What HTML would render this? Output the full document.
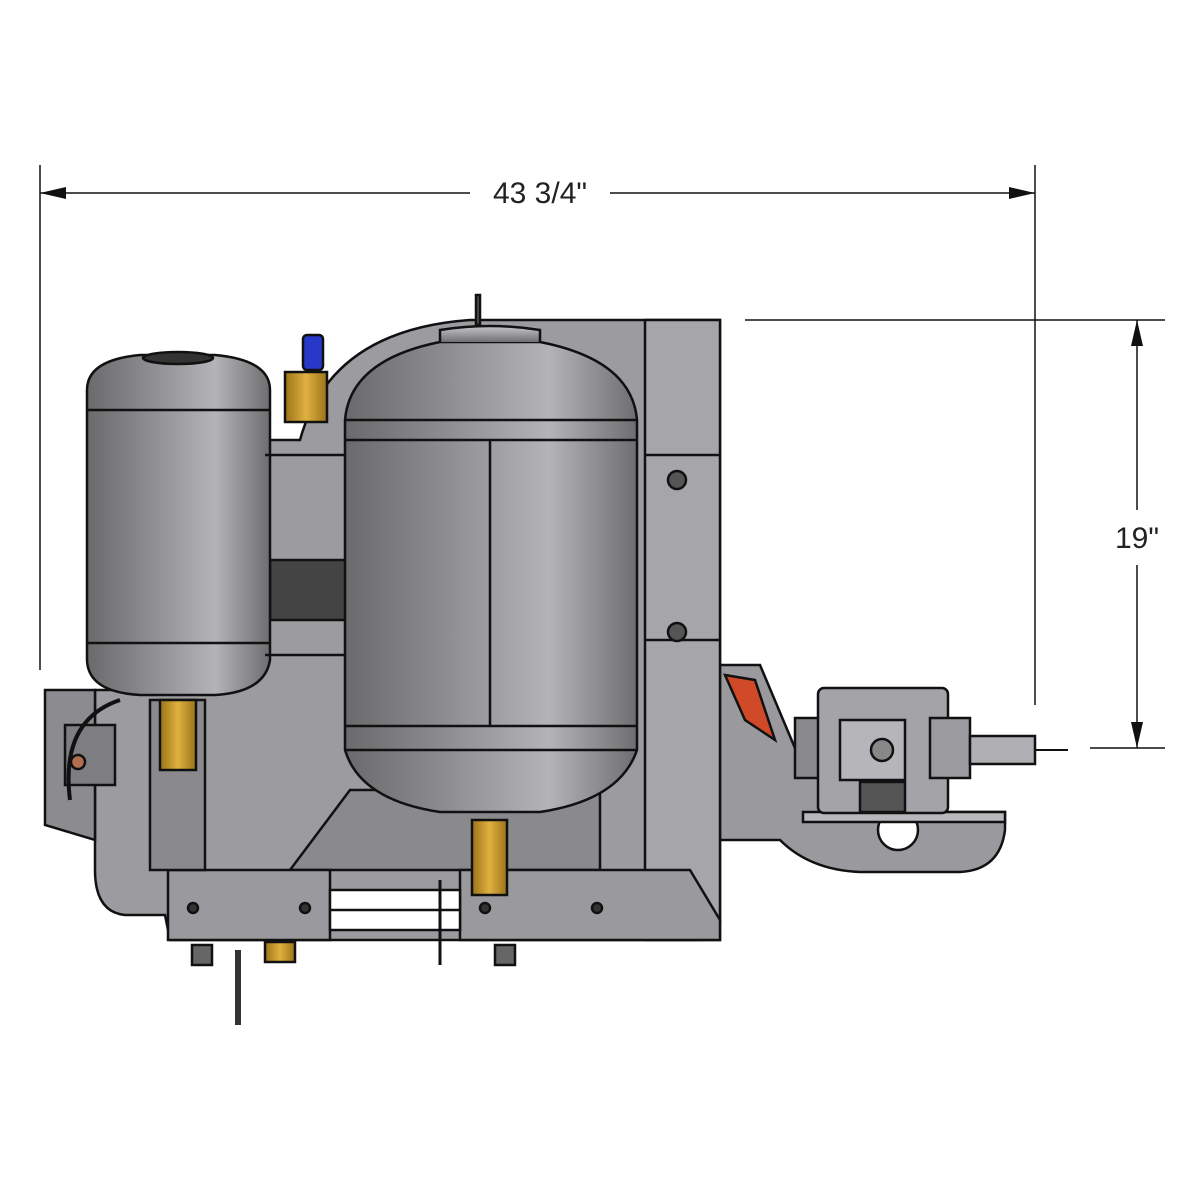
<!DOCTYPE html>
<html><head><meta charset="utf-8"><style>
html,body{margin:0;padding:0;background:#fff;width:1200px;height:1200px;overflow:hidden}
svg{display:block}
text{font-family:"Liberation Sans",sans-serif;fill:#222}
</style></head><body>
<svg width="1200" height="1200" viewBox="0 0 1200 1200" xmlns="http://www.w3.org/2000/svg">
<defs>
<linearGradient id="tank" x1="0" x2="1" y1="0" y2="0">
<stop offset="0" stop-color="#6a6a6c"/><stop offset="0.35" stop-color="#8e8e92"/><stop offset="0.7" stop-color="#b4b4b8"/><stop offset="1" stop-color="#6e6e70"/></linearGradient>
<linearGradient id="cap" x1="0" x2="0" y1="0" y2="1">
<stop offset="0" stop-color="#c8c8cc"/><stop offset="1" stop-color="#707072"/></linearGradient>
<linearGradient id="brass" x1="0" x2="1"><stop offset="0" stop-color="#9a7418"/><stop offset=".5" stop-color="#e0b040"/><stop offset="1" stop-color="#9a7418"/></linearGradient>
</defs>
<g stroke="#111" stroke-width="1.5" fill="none">
<line x1="40" y1="165" x2="40" y2="670"/>
<line x1="1035" y1="165" x2="1035" y2="705"/>
<line x1="40" y1="193" x2="470" y2="193"/>
<line x1="610" y1="193" x2="1035" y2="193"/>
<line x1="745" y1="320" x2="1165" y2="320"/>
<line x1="1090" y1="748" x2="1165" y2="748"/>
<line x1="1137" y1="320" x2="1137" y2="510"/>
<line x1="1137" y1="565" x2="1137" y2="748"/>
</g>
<polygon points="40,193 66,187 66,199" fill="#111"/>
<polygon points="1035,193 1009,187 1009,199" fill="#111"/>
<polygon points="1137,320 1131,346 1143,346" fill="#111"/>
<polygon points="1137,748 1131,722 1143,722" fill="#111"/>
<text x="540" y="203" font-size="30" text-anchor="middle">43 3/4"</text>
<text x="1137" y="548" font-size="30" text-anchor="middle">19"</text>

<g stroke="#111" stroke-width="2.5">
<path d="M700,665 L760,665 L800,760 L830,790 L830,812 L1005,812 L1005,830 Q1000,870 960,872 L860,872 Q810,870 780,840 L720,840 Z" fill="#9a9a9e"/>
<circle cx="898" cy="830" r="20" fill="#fff"/>
<path d="M803,812 L1005,812 L1005,822 L803,822 Z" fill="#b8b8bc"/>
<rect x="795" y="718" width="30" height="60" fill="#8a8a8e"/>
<rect x="818" y="688" width="130" height="125" rx="6" fill="#a4a4a8"/>
<rect x="840" y="720" width="65" height="60" fill="#b6b6ba"/>
<circle cx="882" cy="750" r="11" fill="#888"/>
<rect x="860" y="782" width="45" height="30" fill="#555"/>
<rect x="930" y="718" width="40" height="60" fill="#9c9ca0"/>
<rect x="970" y="736" width="65" height="28" fill="#b0b0b4"/>
<line x1="1035" y1="750" x2="1068" y2="750" stroke-width="2"/>
<path d="M725,675 L755,680 L775,740 L745,720 Z" fill="#d04a2a"/>
<path d="M95,870 L95,690 L150,690 L150,640 L265,640 L265,440 L300,440 Q330,330 470,320 L720,320 L720,925 Q718,940 700,940 L170,940 L165,915 L125,915 Q95,912 95,870 Z" fill="#9c9ca0"/>
<rect x="645" y="320" width="75" height="620" fill="#a6a6aa"/>
<line x1="645" y1="455" x2="720" y2="455"/>
<line x1="645" y1="640" x2="720" y2="640"/>
<circle cx="677" cy="480" r="9" fill="#555"/>
<circle cx="677" cy="632" r="9" fill="#555"/>
<path d="M290,870 L350,790 L600,790 L600,870 Z" fill="#8a8a8e"/>
<path d="M168,870 L330,870 L330,940 L168,940 Z" fill="#9a9a9e"/>
<path d="M460,870 L690,870 L720,920 L720,940 L460,940 Z" fill="#9a9a9e"/>
<rect x="330" y="890" width="130" height="40" fill="#fff"/>
<line x1="330" y1="910" x2="460" y2="910"/>
<circle cx="193" cy="908" r="5" fill="#333"/><circle cx="305" cy="908" r="5" fill="#333"/>
<circle cx="485" cy="908" r="5" fill="#333"/><circle cx="597" cy="908" r="5" fill="#333"/>
<rect x="192" y="945" width="20" height="20" fill="#666"/>
<rect x="495" y="945" width="20" height="20" fill="#666"/>
<rect x="265" y="942" width="30" height="20" fill="url(#brass)"/>
<path d="M238,950 L238,1025" stroke-width="6" stroke="#333"/>
<path d="M440,880 L440,965" stroke-width="3"/>
<path d="M45,690 L45,825 L95,840 L95,690 Z" fill="#8c8c90"/>
<rect x="65" y="725" width="50" height="60" fill="#7e7e82"/>
<circle cx="78" cy="762" r="7" fill="#b07050"/>
<path d="M70,800 Q60,720 120,700" stroke-width="4" fill="none"/>
<rect x="150" y="700" width="55" height="170" fill="#8a8a8e"/>
<rect x="160" y="700" width="36" height="70" fill="url(#brass)"/>
<rect x="472" y="820" width="35" height="75" fill="url(#brass)"/>
<rect x="303" y="335" width="20" height="35" rx="4" fill="#2838c8"/>
<rect x="285" y="372" width="42" height="50" fill="url(#brass)"/>
<rect x="476" y="295" width="4" height="30" fill="#555"/>
<rect x="270" y="560" width="85" height="60" fill="#444"/>
<path d="M87,390 Q87,360 140,355 L215,355 Q270,360 270,390 L270,660 Q265,692 215,695 L140,695 Q88,692 87,660 Z" fill="url(#tank)"/>
<line x1="87" y1="410" x2="270" y2="410"/>
<line x1="87" y1="643" x2="270" y2="643"/>
<ellipse cx="178" cy="358" rx="35" ry="6" fill="#333"/>
<line x1="265" y1="455" x2="345" y2="455"/>
<line x1="265" y1="655" x2="345" y2="655"/>
<path d="M345,420 Q350,360 440,342 L540,342 Q632,360 637,420 L637,750 Q620,800 540,812 L440,812 Q360,800 345,750 Z" fill="url(#tank)"/>
<path d="M440,342 L440,330 Q490,322 540,330 L540,342" fill="url(#cap)"/>
<line x1="345" y1="420" x2="637" y2="420"/>
<line x1="345" y1="440" x2="637" y2="440"/>
<line x1="490" y1="440" x2="490" y2="726"/>
<line x1="345" y1="726" x2="637" y2="726"/>
<line x1="345" y1="750" x2="637" y2="750"/>
</g>
</svg>
</body></html>
